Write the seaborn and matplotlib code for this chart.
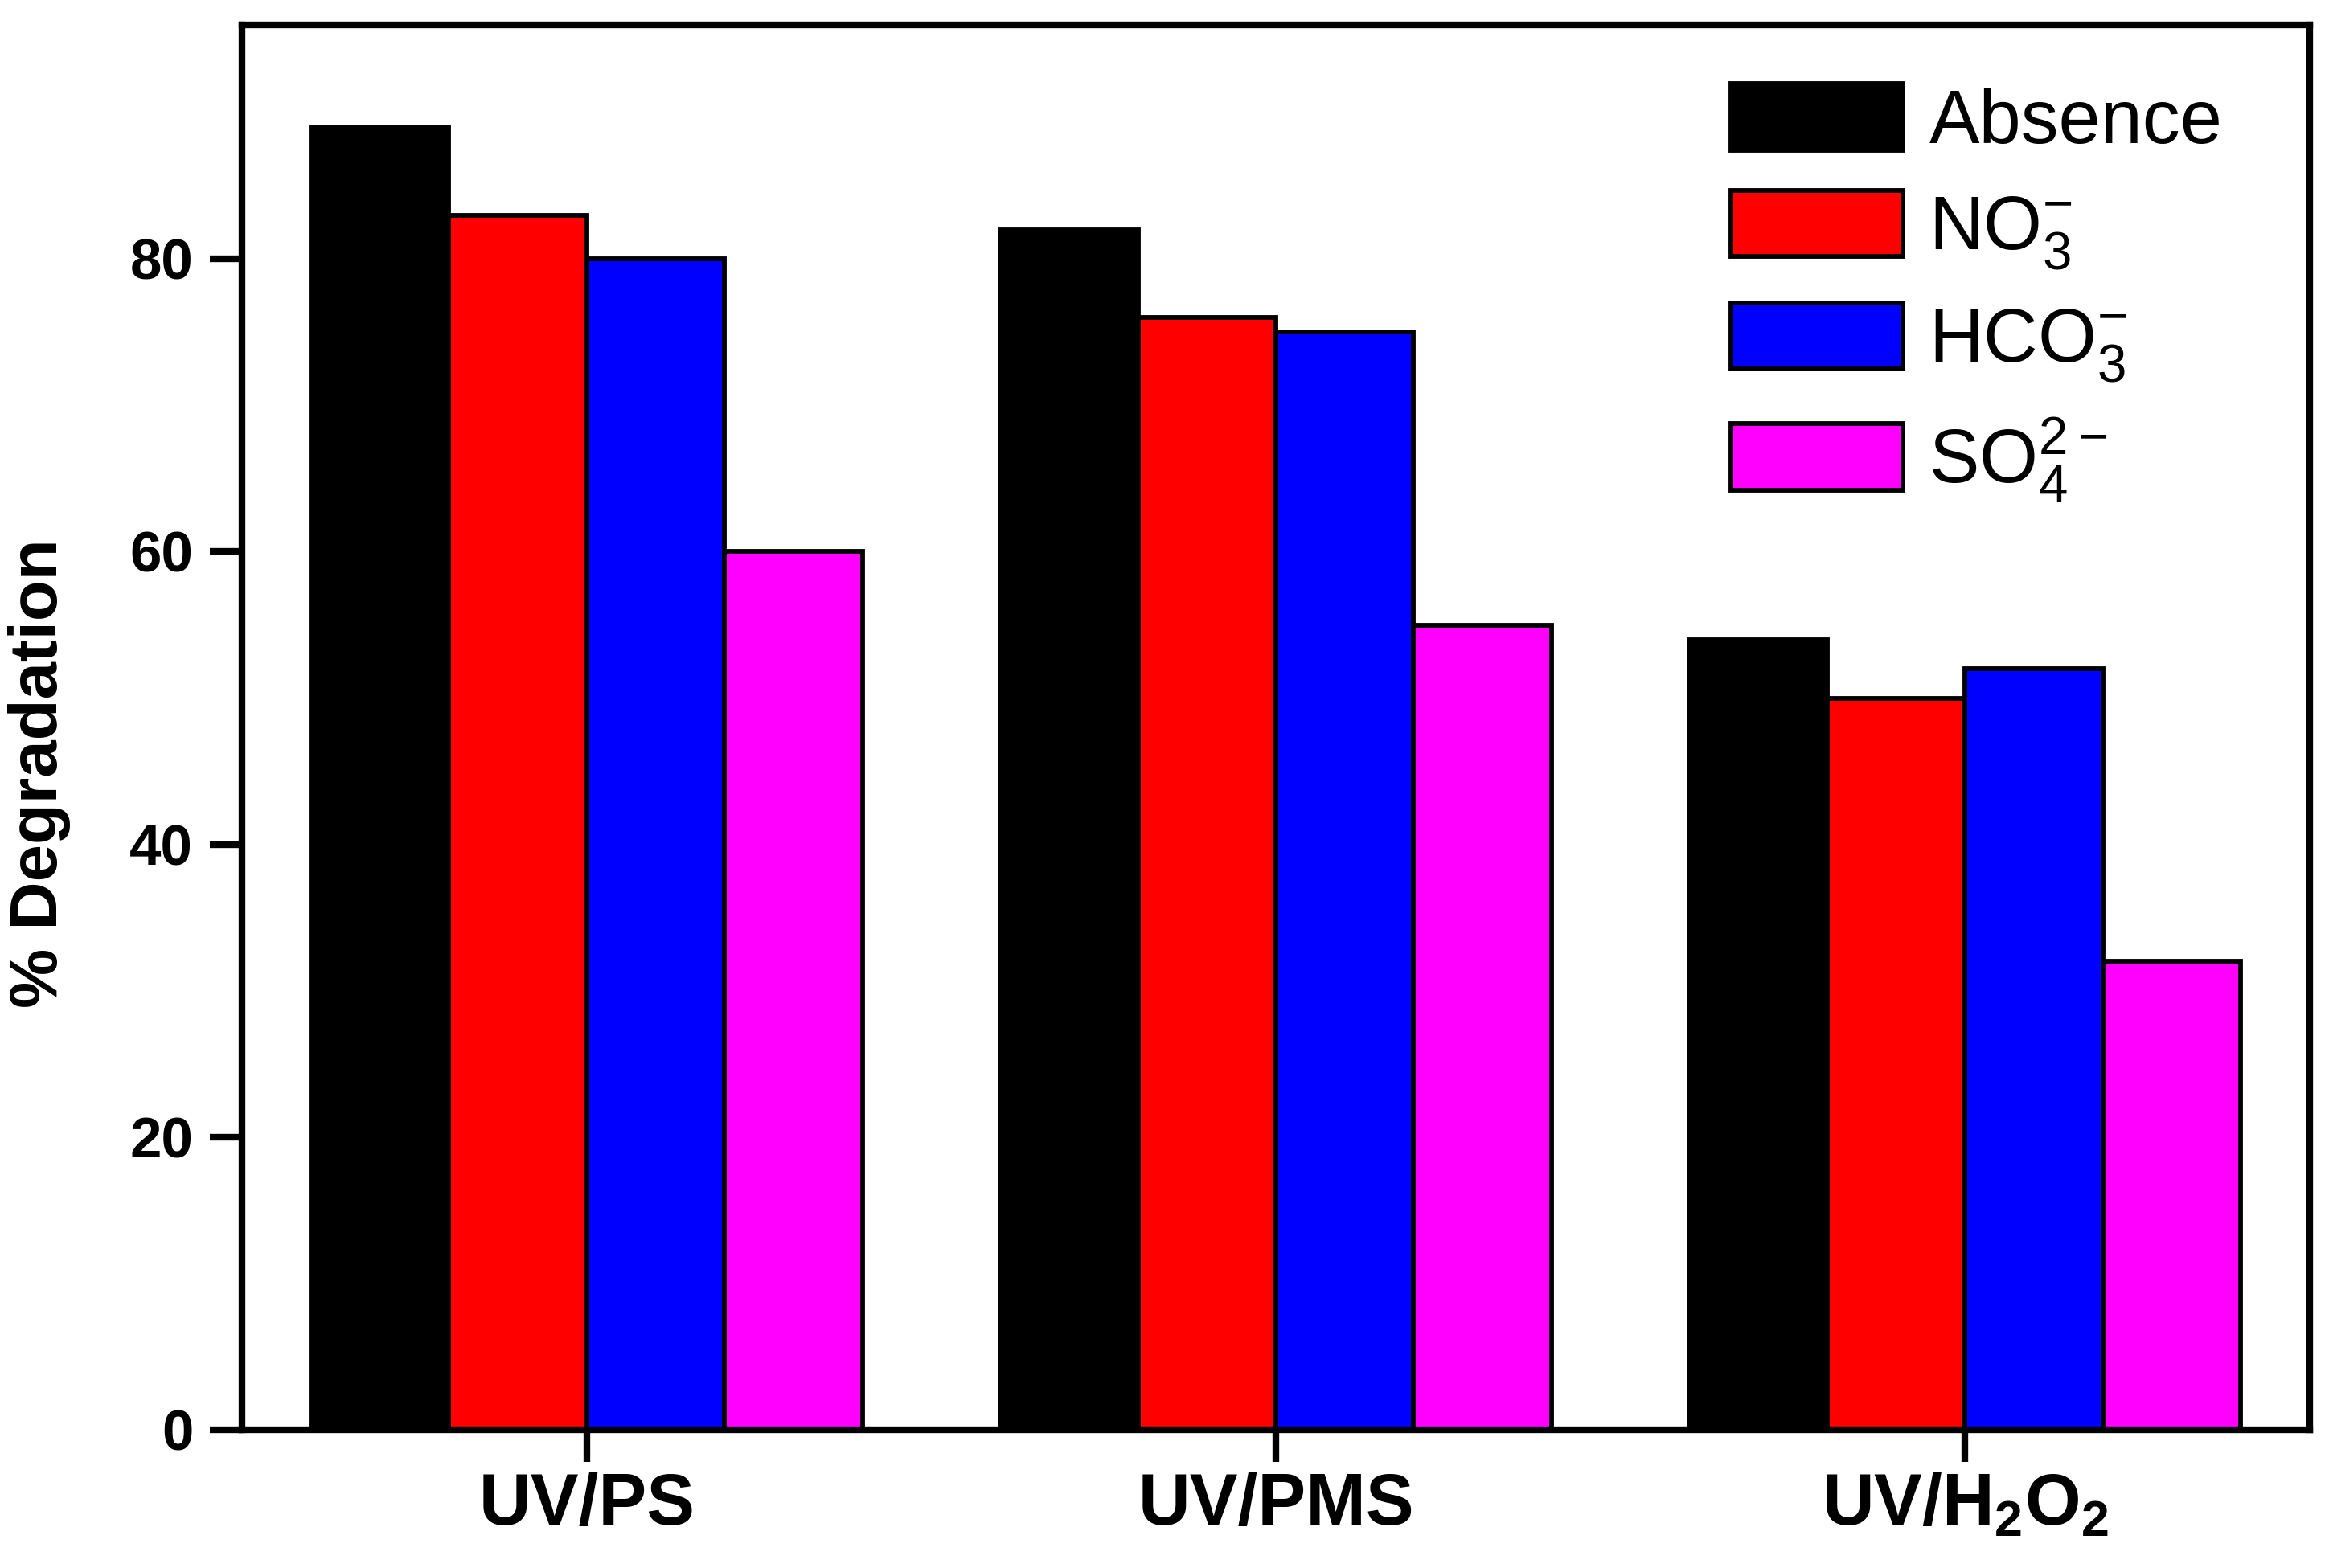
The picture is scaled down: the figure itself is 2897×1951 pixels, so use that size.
import pandas as pd
import numpy as np
import matplotlib
matplotlib.use("Agg")
import matplotlib.pyplot as plt
import seaborn as sns

# datos
sistemas = ['UV/PS', 'UV/PMS', r'UV/H$_2$O$_2$']
aniones = ['Absence', r'NO$_3^{-}$', r'HCO$_3^{-}$', r'SO$_4^{2-}$']
absence = [89, 82, 54]
nitrato = [83, 76, 50]
bicarbonato = [80, 75, 52]
sulfato = [60, 55, 32]
colores = ['#000000', '#ff0000', '#0000ff', '#ff00ff']

valores = [absence, nitrato, bicarbonato, sulfato]
df = pd.DataFrame({
    'sistema': [s for v in valores for s in sistemas],
    'anion': [a for a, v in zip(aniones, valores) for _ in v],
    'deg': [x for v in valores for x in v],
})

sns.set_style('ticks')
plt.rcParams['font.family'] = ['Liberation Sans', 'DejaVu Sans']
plt.rcParams['mathtext.default'] = 'regular'
plt.rcParams['axes.linewidth'] = 2.0
# todo en negro puro, no gris
for k in ['axes.edgecolor', 'text.color', 'axes.labelcolor', 'xtick.color', 'ytick.color']:
    plt.rcParams[k] = 'black'

fig = plt.figure(figsize=(2897 / 300, 1951 / 300), dpi=300)
ax = fig.add_axes([0.1039, 0.0882, 0.9917 - 0.1039, 0.9841 - 0.0882])

sns.barplot(data=df, x='sistema', y='deg', hue='anion', order=sistemas,
            hue_order=aniones, palette=colores, saturation=1, width=0.8,
            edgecolor='black', linewidth=1.4, errorbar=None, ax=ax)

ax.set_ylim(0, 96)
ax.set_xlim(-0.5, 2.5)
ax.set_yticks([0, 20, 40, 60, 80])
ax.set_xlabel('')
ax.set_ylabel('% Degradation', fontsize=20, fontweight='bold')
ax.yaxis.set_label_coords(-0.083, 0.467)
ax.tick_params(axis='both', direction='out', length=9.6, width=2.0, color='black')
ax.tick_params(axis='y', labelsize=17, pad=5)
ax.tick_params(axis='x', labelsize=21.5, pad=3)
for t in ax.get_xticklabels() + ax.get_yticklabels():
    t.set_fontweight('bold')
for s in ax.spines.values():
    s.set_visible(True)
    s.set_linewidth(2.0)
    s.set_color('black')

handles, labels = ax.get_legend_handles_labels()
for h in handles:
    h.set_edgecolor('black')
    h.set_linewidth(1.4)
ax.legend(handles, labels, loc='upper left', bbox_to_anchor=(0.72, 0.958),
          frameon=False, fontsize=22.5, borderpad=0, borderaxespad=0,
          handlelength=2.28, handleheight=0.97, handletextpad=0.35,
          labelspacing=0.42)

fig.savefig('out.png', dpi=300)
